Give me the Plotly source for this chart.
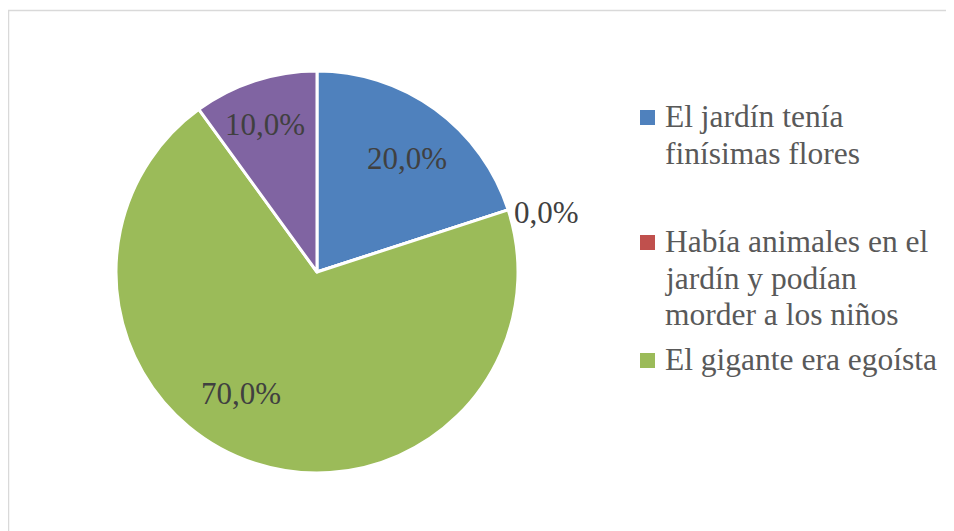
import math
import plotly.graph_objects as go

# ---- data ----
categories = [
    "El jardín tenía<br>finísimas flores",
    "Había animales en el<br>jardín y podían<br>morder a los niños",
    "El gigante era egoísta",
    "",
]
values = [20.0, 0.0, 70.0, 10.0]
colors = ["#4F81BD", "#C0504D", "#9BBB59", "#8064A2"]
label_texts = [f"{v:.1f}".replace(".", ",") + "%" for v in values]

# ---- layout constants (reference pixel coords; page body offsets plot by 8px) ----
OFF = 8
W, H = 954 - OFF, 531 - OFF
CX, CY, R = 317, 272, 201
FONT = "Times New Roman, Liberation Serif, serif"
LBL_SIZE = 31
LEG_SIZE = 31.5

label_rfrac = [0.72, 1.18, 0.71, 0.78]
label_nudge = [2.5, 3.5, 14.0, -1.5]

legend_first_baseline = [127, 252, 370]
legend_line_h = 36.5
legend_marker_x = 640
legend_text_x = 663
legend_marker_size = 15


def px(x):
    return (x - OFF) / W


def py(y):
    return 1 - (y - OFF) / H


fig = go.Figure()
fig.add_trace(go.Pie(
    labels=[c if c else " " for c in categories],
    values=values,
    sort=False,
    direction="clockwise",
    rotation=0,
    marker=dict(colors=colors, line=dict(color="white", width=3)),
    textinfo="none",
    hoverinfo="skip",
    showlegend=False,
    domain=dict(x=[px(CX - R), px(CX + R)], y=[py(CY + R), py(CY - R)]),
))

annotations = []
total = sum(values)
cum = 0.0
for i, v in enumerate(values):
    mid = (cum + v / 2) / total * 360 + label_nudge[i]
    cum += v
    r = R * label_rfrac[i]
    x = CX + r * math.sin(math.radians(mid))
    y = CY - r * math.cos(math.radians(mid))
    annotations.append(dict(
        x=px(x), y=py(y), xref="paper", yref="paper",
        text=label_texts[i], showarrow=False,
        xanchor="center", yanchor="middle",
        font=dict(family=FONT, size=LBL_SIZE, color="#404040"),
    ))

shapes = []
for i, cat in enumerate(categories[:3]):
    base = legend_first_baseline[i]
    lines = cat.split("<br>")
    for j, line in enumerate(lines):
        b = base + j * legend_line_h
        annotations.append(dict(
            x=px(legend_text_x), y=py(b - 0.32 * LEG_SIZE), xref="paper", yref="paper",
            text=line, showarrow=False, xanchor="left", yanchor="middle",
            font=dict(family=FONT, size=LEG_SIZE, color="#595959"),
        ))
    mc = base - 9.5
    shapes.append(dict(
        type="rect", xref="paper", yref="paper",
        x0=px(legend_marker_x), x1=px(legend_marker_x + legend_marker_size),
        y0=py(mc + legend_marker_size / 2), y1=py(mc - legend_marker_size / 2),
        fillcolor=colors[i], line=dict(width=0),
    ))

# chart border
shapes.append(dict(
    type="rect", xref="paper", yref="paper",
    x0=px(8.5), x1=px(954 + 20), y0=py(531 + 20), y1=py(10.5),
    line=dict(color="#d9d9d9", width=1.5), fillcolor="rgba(0,0,0,0)",
    layer="below",
))

fig.update_layout(
    width=W, height=H,
    margin=dict(l=0, r=0, t=0, b=0),
    paper_bgcolor="white",
    plot_bgcolor="white",
    showlegend=False,
    annotations=annotations,
    shapes=shapes,
    font=dict(family=FONT),
)

fig.write_html("out.html")
